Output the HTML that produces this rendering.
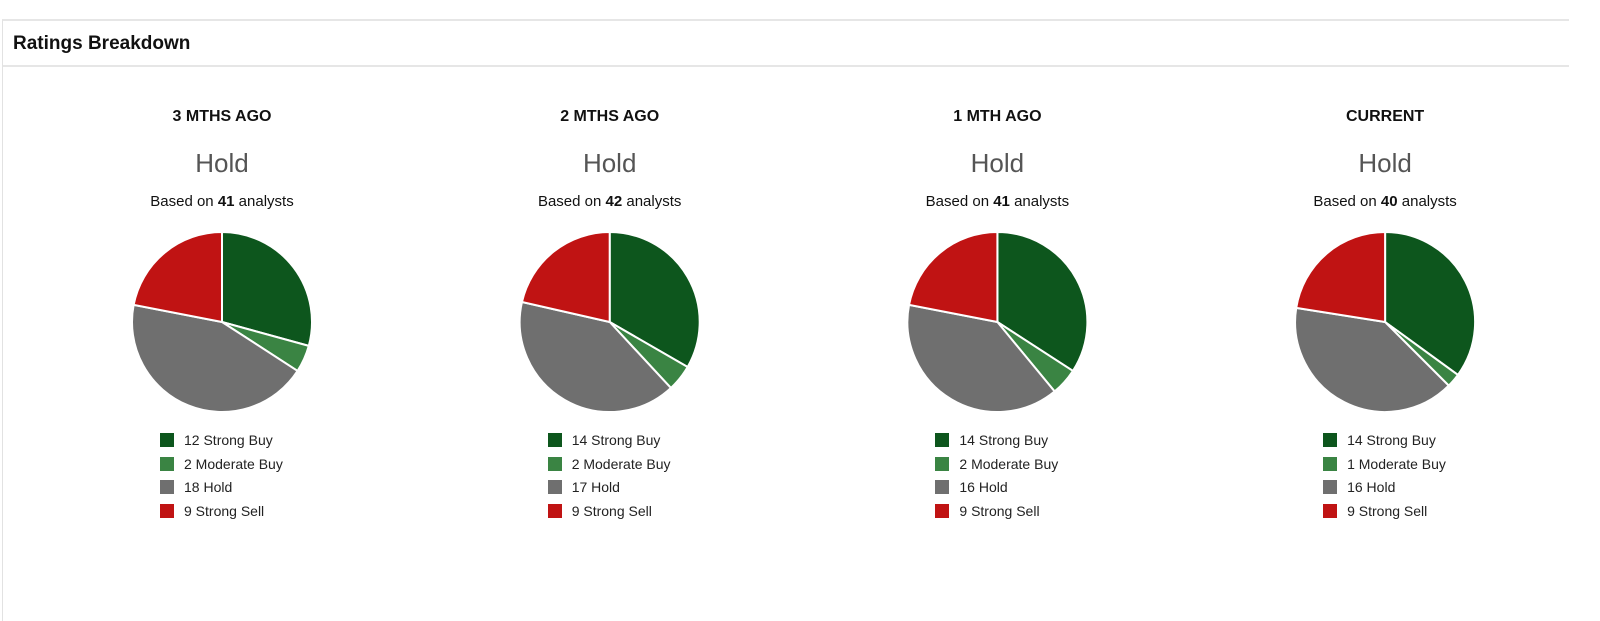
<!DOCTYPE html>
<html><head><meta charset="utf-8"><style>
body{margin:0;width:1600px;height:612px;background:#fff;font-family:"Liberation Sans",sans-serif;overflow:hidden;position:relative}
.panel{position:absolute;left:2px;top:19px;width:1566px;height:600px;border-left:1px solid #e2e2e2;border-top:2px solid #e6e6e6}
.hdr{position:absolute;left:0;top:0;width:1566px;height:44px;border-bottom:2px solid #e6e6e6}
.hdr span{position:absolute;left:10px;top:12px;font-size:19px;font-weight:bold;color:#111}
.col{position:absolute;top:0;width:300px;text-align:center}
.t{position:absolute;top:108px;width:300px;font-weight:bold;font-size:16px;color:#111}
.c{position:absolute;top:148px;width:300px;font-size:26px;color:#555}
.b{position:absolute;top:193px;width:300px;font-size:15px;color:#111}
.leg{position:absolute;left:0;font-size:14px;color:#222;text-align:left;white-space:nowrap}
.sw{display:inline-block;width:14px;height:14px;vertical-align:-2px;margin-right:10px}
svg{position:absolute;left:0;top:0}
</style></head><body>
<div class="panel">
<div class="hdr"><span>Ratings Breakdown</span></div>
</div>
<svg id="pies" width="1600" height="612"></svg>
<div id="cols"></div>
<script>
const periods=["3 MTHS AGO","2 MTHS AGO","1 MTH AGO","CURRENT"];
const consensus=["Hold","Hold","Hold","Hold"];
const strongBuy=[12,14,14,14];
const moderateBuy=[2,2,2,1];
const hold=[18,17,16,16];
const strongSell=[9,9,9,9];
const labels=["Strong Buy","Moderate Buy","Hold","Strong Sell"];
const colors=["#0d561d","#3a8443","#6f6f6f","#c01313"];
const svg=document.getElementById('pies');
const cols=document.getElementById('cols');
const NS="http://www.w3.org/2000/svg";
periods.forEach((p,i)=>{
  const cx=222+i*387.7, cy=322, r=90;
  const vals=[strongBuy[i],moderateBuy[i],hold[i],strongSell[i]];
  const tot=vals.reduce((a,b)=>a+b,0);
  let a0=0;
  vals.forEach((v,k)=>{
    const a1=a0+v/tot*2*Math.PI;
    const x0=cx+r*Math.sin(a0),y0=cy-r*Math.cos(a0),x1=cx+r*Math.sin(a1),y1=cy-r*Math.cos(a1);
    const path=document.createElementNS(NS,'path');
    path.setAttribute('d',`M${cx},${cy}L${x0},${y0}A${r},${r} 0 ${(a1-a0)>Math.PI?1:0} 1 ${x1},${y1}Z`);
    path.setAttribute('fill',colors[k]);path.setAttribute('stroke','#fff');path.setAttribute('stroke-width','2');
    
    
    svg.appendChild(path);a0=a1;
  });
  const d=document.createElement('div');d.className='col';d.style.left=(cx-150)+'px';
  
  
  let h=`<div class="t">${p}</div><div class="c">${consensus[i]}</div><div class="b">Based on <b>${tot}</b> analysts</div>`;
  vals.forEach((v,k)=>{h+=`<div class="leg" style="left:88px;top:${432+k*23.6}px"><span class="sw" style="background:${colors[k]}"></span>${v} ${labels[k]}</div>`;});
  d.innerHTML=h;cols.appendChild(d);
});
</script>
</body></html>
